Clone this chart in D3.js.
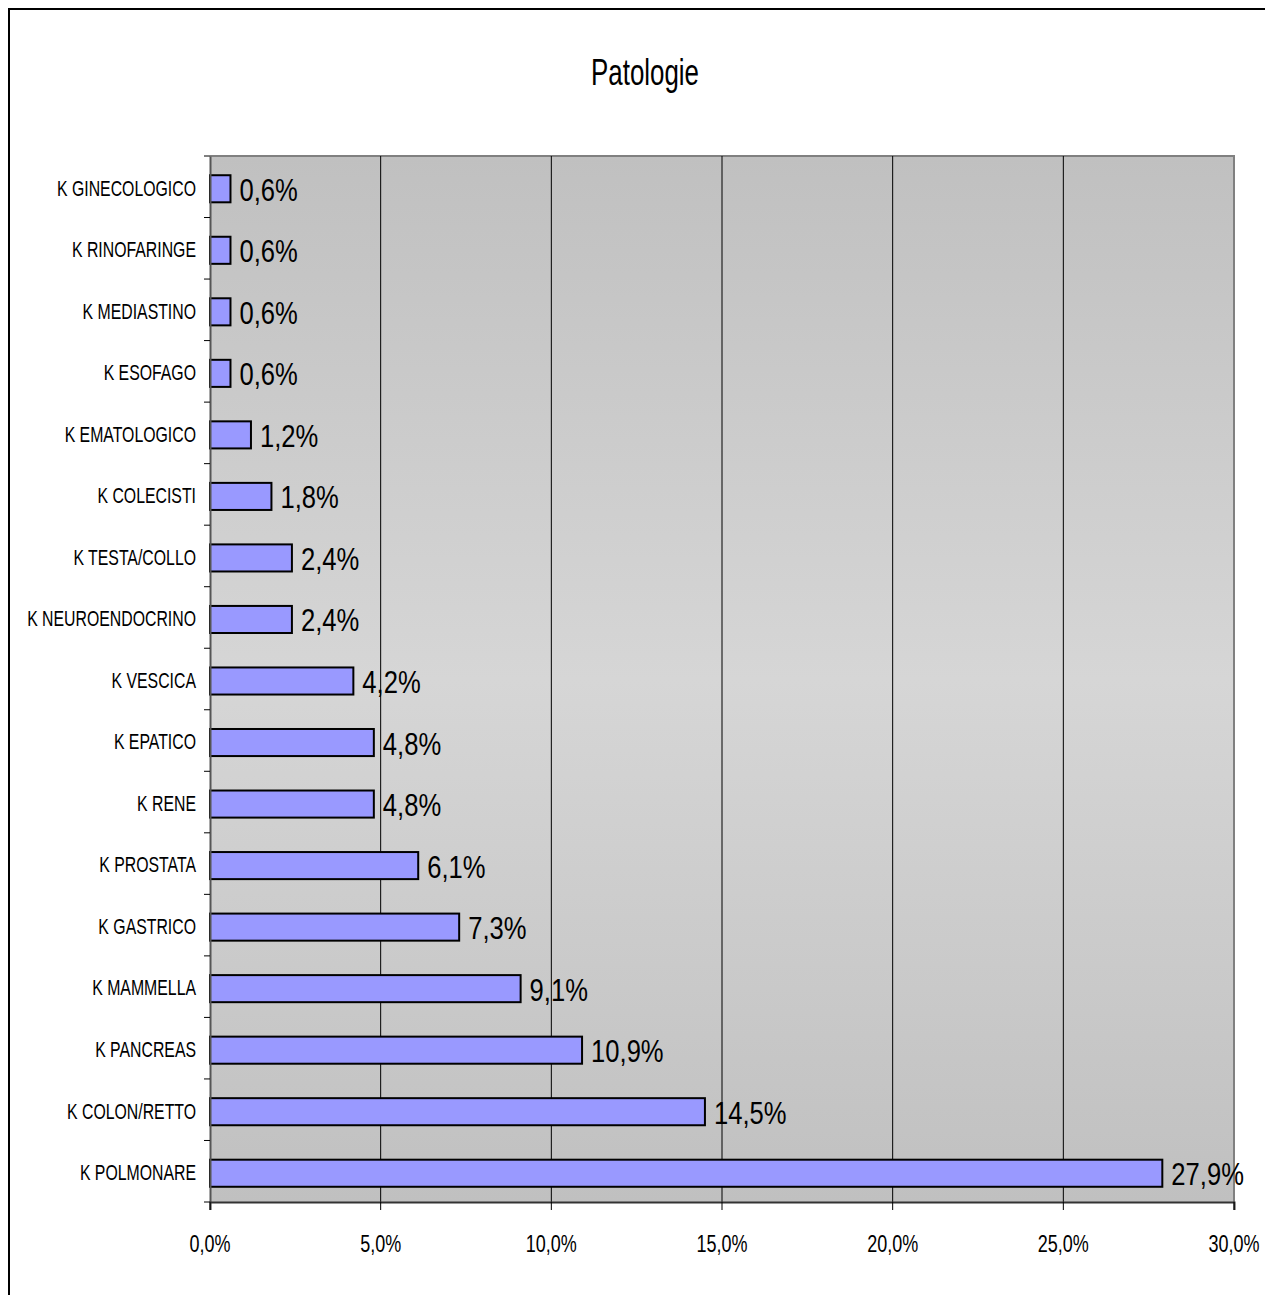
<!DOCTYPE html>
<html>
<head>
<meta charset="utf-8">
<script src="https://cdn.jsdelivr.net/npm/d3@7"></script>
<style>
  body { margin: 0; background: #fff; }
  text { font-family: "Liberation Sans", Arial, sans-serif; }
</style>
</head>
<body>
<div id="chart"></div>
<script>
// data, top row first
var categories = ["K GINECOLOGICO", "K RINOFARINGE", "K MEDIASTINO", "K ESOFAGO", "K EMATOLOGICO",
  "K COLECISTI", "K TESTA/COLLO", "K NEUROENDOCRINO", "K VESCICA", "K EPATICO", "K RENE",
  "K PROSTATA", "K GASTRICO", "K MAMMELLA", "K PANCREAS", "K COLON/RETTO", "K POLMONARE"];
var values = [0.6, 0.6, 0.6, 0.6, 1.2, 1.8, 2.4, 2.4, 4.2, 4.8, 4.8, 6.1, 7.3, 9.1, 10.9, 14.5, 27.9];
var xTicks = [0, 5, 10, 15, 20, 25, 30];
var title = "Patologie";

var W = 1265, H = 1295;
var plotL = 210, plotR = 1234, plotT = 156, plotB = 1202;
// the original font is a narrow one, squeeze the text horizontally
var squeeze = 0.72;

var fmt = function(v) { return v.toFixed(1).replace(".", ",") + "%"; };

var svg = d3.select("#chart").append("svg")
  .attr("width", W).attr("height", H);

// outer chart border
svg.append("rect")
  .attr("x", 9).attr("y", 9).attr("width", W + 10).attr("height", H + 10)
  .attr("fill", "#fff").attr("stroke", "#000").attr("stroke-width", 2);

svg.append("text")
  .attr("transform", "translate(645,85) scale(0.7,1)")
  .attr("text-anchor", "middle")
  .attr("font-size", 37)
  .text(title);

var x = d3.scaleLinear().domain([0, 30]).range([plotL, plotR]);
var y = d3.scaleBand().domain(categories).range([plotT, plotB]).paddingInner(0.56).paddingOuter(0.28);
var yb = d3.scaleBand().domain(categories).range([plotT, plotB]);

// plot area gradient
var grad = svg.append("defs").append("linearGradient")
  .attr("id", "bg").attr("x1", 0).attr("y1", 0).attr("x2", 0).attr("y2", 1);
grad.append("stop").attr("offset", "0%").attr("stop-color", "#c0c0c0");
grad.append("stop").attr("offset", "50%").attr("stop-color", "#d6d6d6");
grad.append("stop").attr("offset", "100%").attr("stop-color", "#c0c0c0");

svg.append("rect")
  .attr("x", plotL).attr("y", plotT).attr("width", plotR - plotL).attr("height", plotB - plotT)
  .attr("fill", "url(#bg)");
svg.append("path")
  .attr("d", "M" + plotL + "," + plotT + "H" + plotR + "V" + plotB)
  .attr("fill", "none").attr("stroke", "#808080").attr("stroke-width", 2);

// gridlines
svg.selectAll("line.grid")
  .data(xTicks.slice(1, -1))
  .enter().append("line")
  .attr("class", "grid")
  .attr("x1", function(d) { return x(d); }).attr("x2", function(d) { return x(d); })
  .attr("y1", plotT).attr("y2", plotB)
  .attr("stroke", "#000").attr("stroke-width", 1);

// bars
svg.selectAll("rect.bar")
  .data(values)
  .enter().append("rect")
  .attr("class", "bar")
  .attr("x", x(0))
  .attr("y", function(d, i) { return y(categories[i]) + 2; })
  .attr("width", function(d) { return x(d) - x(0); })
  .attr("height", y.bandwidth())
  .attr("fill", "#9999ff")
  .attr("stroke", "#000")
  .attr("stroke-width", 2);

// value labels
svg.selectAll("text.val")
  .data(values)
  .enter().append("text")
  .attr("class", "val")
  .attr("transform", function(d, i) {
    return "translate(" + (x(d) + 9) + "," + (y(categories[i]) + y.bandwidth() / 2 + 14) + ") scale(0.8,1)";
  })
  .attr("font-size", 32)
  .text(fmt);

// y axis
var yAxis = d3.axisLeft(yb).tickSize(0).tickPadding(0);
var gy = svg.append("g").attr("transform", "translate(" + plotL + ",0)").call(yAxis);
gy.select(".domain").attr("stroke", "#555").attr("stroke-width", 2);
gy.selectAll("text")
  .attr("font-size", 22).attr("fill", "#000")
  .attr("font-family", "\"Liberation Sans\", Arial, sans-serif")
  .attr("x", -14 / squeeze)
  .attr("dy", "0.4em")
  .attr("transform", "scale(" + squeeze + ",1)");
svg.selectAll("line.ytick")
  .data(d3.range(categories.length + 1))
  .enter().append("line")
  .attr("class", "ytick")
  .attr("x1", plotL - 6).attr("x2", plotL)
  .attr("y1", function(d) { return plotT + d * yb.step(); })
  .attr("y2", function(d) { return plotT + d * yb.step(); })
  .attr("stroke", "#000").attr("stroke-width", 1);

// x axis
var xAxis = d3.axisBottom(x).tickValues(xTicks).tickSize(8).tickPadding(0)
  .tickFormat(fmt);
var gx = svg.append("g").attr("transform", "translate(0," + plotB + ")").call(xAxis);
gx.select(".domain").attr("stroke", "#333").attr("stroke-width", 2);
gx.selectAll("line").attr("stroke", "#000");
gx.selectAll("text")
  .attr("font-size", 24).attr("fill", "#000")
  .attr("font-family", "\"Liberation Sans\", Arial, sans-serif")
  .attr("y", 50).attr("dy", 0)
  .attr("transform", "scale(0.75,1)")
  .attr("x", 0);
gx.selectAll(".tick").each(function(d) {
  d3.select(this).attr("transform", "translate(" + x(d) + ",0)");
});
</script>
</body>
</html>
